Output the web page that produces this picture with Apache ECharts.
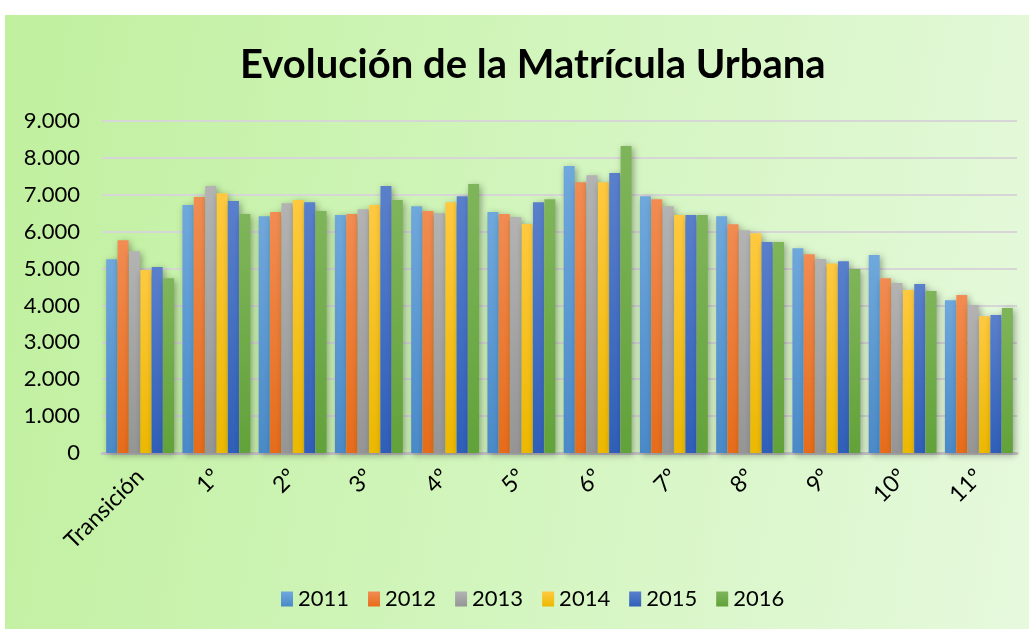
<!DOCTYPE html>
<html>
<head>
<meta charset="utf-8">
<script src="https://cdn.jsdelivr.net/npm/echarts@6/dist/echarts.min.js"></script>
<style>
	html, body { margin: 0; padding: 0; background: #ffffff; }
	#bg {
		position: absolute; left: 5px; top: 15px; width: 1024px; height: 614px;
		background: linear-gradient(100deg, #c0f09e 0%, #d2f5bd 50%, #e6f9dd 100%);
	}
	#main { position: absolute; left: 0; top: 0; width: 1029px; height: 629px; }
</style>
</head>
<body>
<div id="bg"></div>
<div id="main"></div>
<script>
	var categories = ['Transición', '1º', '2º', '3º', '4º', '5º', '6º', '7º', '8º', '9º', '10º', '11º'];
	var years = ['2011', '2012', '2013', '2014', '2015', '2016'];

	var v2011 = [5250, 6720, 6420, 6450, 6690, 6530, 7780, 6960, 6420, 5550, 5370, 4140];
	var v2012 = [5770, 6940, 6530, 6480, 6560, 6480, 7340, 6880, 6200, 5390, 4740, 4280];
	var v2013 = [5470, 7240, 6770, 6610, 6500, 6400, 7530, 6690, 6040, 5260, 4610, 4010];
	var v2014 = [4960, 7040, 6860, 6720, 6800, 6210, 7340, 6450, 5960, 5140, 4420, 3710];
	var v2015 = [5040, 6830, 6800, 7240, 6960, 6800, 7590, 6450, 5720, 5200, 4580, 3740];
	var v2016 = [4740, 6480, 6560, 6860, 7290, 6880, 8320, 6450, 5720, 4990, 4390, 3930];

	var yTicks = [0, 1000, 2000, 3000, 4000, 5000, 6000, 7000, 8000, 9000];

	// top colour, bottom colour
	var colors = [
		['#6fa8dc', '#4a8ac8'],
		['#f28c52', '#e66c1a'],
		['#b3b3b3', '#959595'],
		['#ffc940', '#ecb800'],
		['#5a80cc', '#2f5fb8'],
		['#7fb55a', '#62a23a']
	];
	var allValues = [v2011, v2012, v2013, v2014, v2015, v2016];

	function fmt(v) {
		return String(v).replace(/\B(?=(\d{3})+(?!\d))/g, '.');
	}

	var series = [];
	years.forEach(function(y, i) {
		series.push({
			name: y,
			type: 'bar',
			data: allValues[i],
			barGap: '4%',
			barCategoryGap: '11%',
			itemStyle: {
				color: new echarts.graphic.LinearGradient(0, 0, 0, 1, [
					{offset: 0, color: colors[i][0]},
					{offset: 1, color: colors[i][1]}
				]),
				shadowBlur: 7,
				shadowColor: 'rgba(0,0,0,0.35)',
				shadowOffsetX: 2,
				shadowOffsetY: 2
			}
		});
	});

	var myChart = echarts.init(document.getElementById('main'));
	var option = {
		animation: false,
		backgroundColor: 'transparent',
		title: {
			text: 'Evolución de la Matrícula Urbana',
			left: 235,
			top: 40,
			textStyle: {
				fontFamily: 'Lato',
				fontWeight: 'bold',
				fontSize: 40,
				color: '#000'
			}
		},
		legend: {
			data: years,
			bottom: 14,
			left: 276,
			itemWidth: 12,
			itemHeight: 15,
			itemGap: 19,
			icon: 'rect',
			textStyle: {
				fontFamily: 'Lato',
				fontSize: 22,
				color: '#000'
			}
		},
		grid: {
			left: 102,
			right: 12,
			top: 121,
			bottom: 176
		},
		xAxis: {
			type: 'category',
			data: categories,
			axisTick: {show: false},
			axisLine: {lineStyle: {color: '#c4c4c4', width: 3}},
			axisLabel: {
				rotate: 45,
				margin: 20,
				color: '#000',
				fontFamily: 'Lato',
				fontSize: 23
			}
		},
		yAxis: {
			type: 'value',
			min: yTicks[0],
			max: yTicks[yTicks.length - 1],
			interval: 1000,
			axisLine: {show: false},
			axisTick: {show: false},
			splitLine: {lineStyle: {color: '#d6d6d6', width: 2}},
			axisLabel: {
				margin: 22,
				color: '#000',
				fontFamily: 'Lato',
				fontSize: 22,
				formatter: fmt
			}
		},
		series: series
	};
	myChart.setOption(option);
</script>
</body>
</html>
